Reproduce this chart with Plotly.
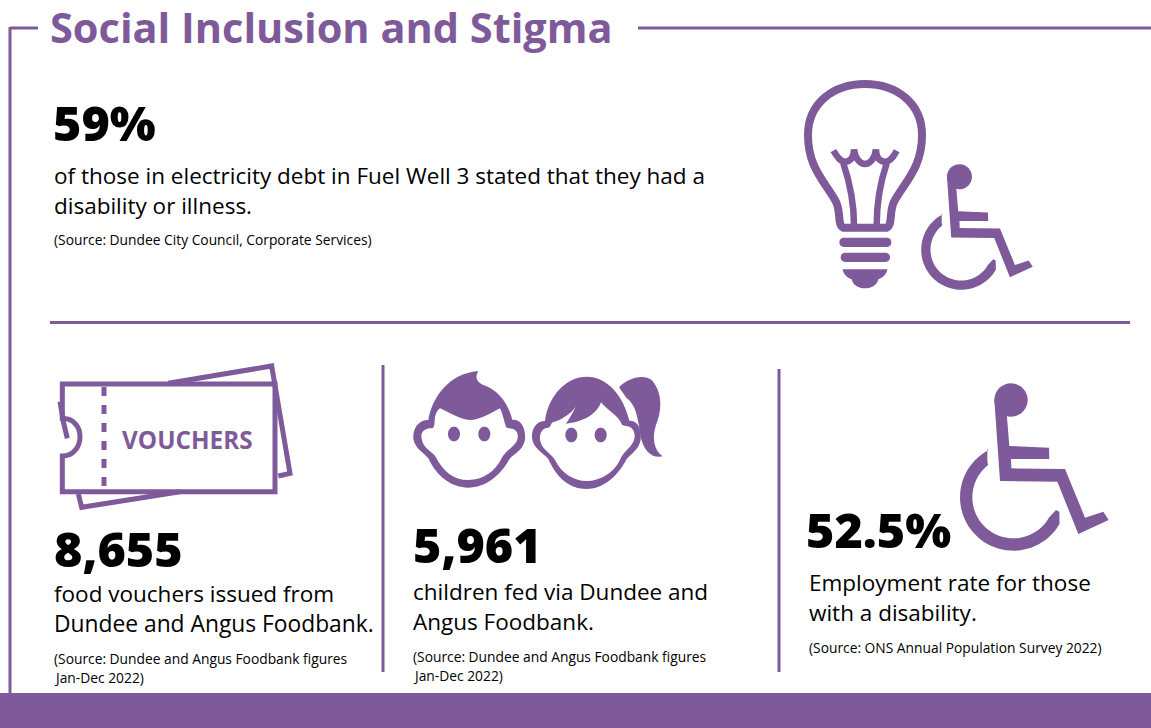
import re
import numpy as np
import plotly.graph_objects as go

PURPLE = "#7E5A9B"
FONT = "Open Sans"

title_text = "Social Inclusion and Stigma"
headline_values = ["59%", "8,655", "5,961", "52.5%"]
body_lines = [
    "of those in electricity debt in Fuel Well 3 stated that they had a",
    "disability or illness.",
    "food vouchers issued from",
    "Dundee and Angus Foodbank.",
    "children fed via Dundee and",
    "Angus Foodbank.",
    "Employment rate for those",
    "with a disability.",
]
source_lines = [
    "(Source: Dundee City Council, Corporate Services)",
    "(Source: Dundee and Angus Foodbank figures",
    "Jan-Dec 2022)",
    "(Source: Dundee and Angus Foodbank figures",
    "Jan-Dec 2022)",
    "(Source: ONS Annual Population Survey 2022)",
]

fig = go.Figure()
shapes = []
annotations = []


def tf(path, ox, oy, s):
    def rep(m):
        return f"{ox + float(m.group(1)) * s:.2f},{oy + float(m.group(2)) * s:.2f}"
    return re.sub(r"(-?[\d.]+),(-?[\d.]+)", rep, path)


def add_path(path, fill=PURPLE, line=None, width=0, dash=None):
    shapes.append(dict(
        type="path", path=path, xref="x", yref="y",
        fillcolor=fill if fill else "rgba(0,0,0,0)",
        line=dict(color=line if line else "rgba(0,0,0,0)", width=width, dash=dash),
    ))


def arc(cx, cy, rx, ry, a0, a1, n=48):
    t = np.radians(np.linspace(a0, a1, n))
    return [(cx + rx * np.cos(v), cy + ry * np.sin(v)) for v in t]


def pts(points, close=True):
    s = "M" + " L".join(f"{x:.2f},{y:.2f}" for x, y in points)
    return s + (" Z" if close else "")


def wheelchair(ox, oy, s):
    head = arc(183, 75, 50, 50, 0, 360)
    add_path(tf(pts(head), ox, oy, s))
    body = [(133, 75), (170, 115), (178, 213), (297, 218), (298, 252), (183, 252), (184, 280),
            (345, 282), (405, 428), (460, 410), (476, 435), (385, 477), (322, 320), (150, 318)]
    add_path(tf(pts(body), ox, oy, s))
    outer = arc(190, 367, 160, 160, 242, 30)
    inner = arc(190, 367, 123, 123, 30, 232)
    wheel = [(112, 220)] + outer + [(328, 410), (318, 405)] + inner + [(112, 258)]
    add_path(tf(pts(wheel), ox, oy, s))


def text(x, y, t, size, color="#000000", weight=400, font=FONT):
    annotations.append(dict(
        x=x - 2, y=y, xref="x", yref="y", text=t, showarrow=False,
        xanchor="left", yanchor="middle", align="left",
        font=dict(family=font, size=size, color=color, weight=weight),
    ))


def seg(x0, y0, x1, y1, w=3, dash=None):
    shapes.append(dict(type="line", x0=x0, y0=y0, x1=x1, y1=y1, xref="x", yref="y",
                       line=dict(color=PURPLE, width=w, dash=dash)))


# frame
seg(10, 28, 38, 28)
seg(10, 27, 10, 693)
seg(638, 28, 1151, 28)
shapes.append(dict(type="rect", x0=0, x1=1151, y0=693, y1=728, xref="x", yref="y",
                   fillcolor=PURPLE, line=dict(width=0)))
seg(50, 322.5, 1130, 322.5)
seg(383, 365, 383, 672)
seg(779, 369, 779, 672)

# bulb
BX, BY, BS = 780, 60, 1 / 3
bulb = ("M190,503 C170,495 185,450 165,420 C130,360 84,320 84,225 C84,130 160,72 255,72 "
        "C350,72 426,130 426,225 C426,320 380,360 345,420 C325,450 340,495 320,503 Z")
add_path(tf(bulb, BX, BY, BS), fill=None, line=PURPLE, width=8)
crown = ("M160,272 C172,292 182,305 195,305 C212,305 222,290 222,268 C225,295 240,312 255,312 "
         "C270,312 285,295 288,268 C288,290 298,305 315,305 C328,305 340,292 350,272")
add_path(tf(crown, BX, BY, BS), fill=None, line=PURPLE, width=6.5)
add_path(tf("M190,310 C210,370 222,440 222,495", BX, BY, BS), fill=None, line=PURPLE, width=6.5)
add_path(tf("M320,310 C300,370 290,440 290,495", BX, BY, BS), fill=None, line=PURPLE, width=6.5)
for y, x0, x1 in [(547, 178, 334), (592, 182, 330)]:
    bar = arc(x0 + 14, y, 14, 14, 90, 270, 12) + arc(x1 - 14, y, 14, 14, 270, 450, 12)
    add_path(tf(pts(bar), BX, BY, BS))
add_path(tf("M188,628 L322,628 C320,645 305,655 295,658 C290,680 270,685 255,685 "
            "C240,685 220,680 215,658 C205,655 190,645 188,628 Z", BX, BY, BS))

wheelchair(913.7, 158, 0.25)
wheelchair(950, 375, 1 / 3)

# vouchers
VX, VY, VS = 40, 350, 1 / 3
front = ("M67,102 L705,102 L705,425 L67,425 L67,318 C100,318 120,290 120,260 "
         "C120,230 100,205 67,205 Z")
add_path(tf(front, VX, VY, VS), fill=None, line=PURPLE, width=5)
add_path(tf("M385,100 L695,48 L750,370 L715,378", VX, VY, VS), fill=None, line=PURPLE, width=5)
add_path(tf("M115,432 L125,472 L420,425", VX, VY, VS), fill=None, line=PURPLE, width=5)
add_path(tf("M60,155 L70,215 L82,265", VX, VY, VS), fill=None, line=PURPLE, width=5)
seg(104, 387, 104, 488, w=5, dash="9px,9px")
text(122, 439, "VOUCHERS", 24.3, color=PURPLE, weight=700)

# kids
KX, KY, KS = 400, 365, 1 / 3
boy_out = ("M235,18 C225,35 228,50 250,60 C295,75 325,115 337,165 C365,160 378,195 375,225 "
           "C368,255 345,265 330,280 C300,335 255,368 205,368 C155,368 110,335 85,280 "
           "C70,262 45,250 40,222 C38,190 55,165 85,165 C95,100 145,25 235,18 Z")
boy_face = ("M120,130 C145,140 180,165 210,165 C240,165 270,145 300,130 C310,150 312,170 318,185 "
            "C325,195 345,185 352,205 C358,225 345,240 325,255 C315,265 310,270 305,280 "
            "C285,320 250,345 205,345 C160,345 130,320 105,272 C95,260 70,250 65,222 "
            "C60,200 75,190 95,190 C105,190 103,170 105,155 C108,145 112,135 120,130 Z")
add_path(tf(boy_out, KX, KY, KS))
add_path(tf(boy_face, KX, KY, KS), fill="#ffffff")
for cx in [162, 253]:
    add_path(tf(pts(arc(cx, 207, 18, 22, 0, 360)), KX, KY, KS))
girl_out = ("M560,35 C620,35 670,90 688,167 C715,165 725,195 722,225 C715,255 695,265 680,282 "
            "C650,340 605,372 560,372 C510,372 470,340 445,282 C430,265 400,250 396,220 "
            "C394,190 410,168 435,168 C445,90 500,35 560,35 Z")
girl_face = ("M527,125 C515,150 505,165 498,176 C545,172 590,150 603,112 C620,135 660,155 665,178 "
             "C670,185 685,180 695,190 C710,205 705,230 690,245 C675,260 665,270 660,285 "
             "C640,325 600,348 560,348 C520,348 485,325 465,285 C455,265 425,255 420,225 "
             "C418,200 430,188 445,188 C455,185 450,178 458,172 C480,165 510,150 527,125 Z")
add_path(tf(girl_out, KX, KY, KS))
add_path(tf(girl_face, KX, KY, KS), fill="#ffffff")
for cx in [514, 602]:
    add_path(tf(pts(arc(cx, 210, 18, 22, 0, 360)), KX, KY, KS))
tail = ("M657,67 C680,40 730,25 755,45 C790,85 785,140 768,180 C755,220 762,255 788,274 "
        "C755,282 730,255 722,215 C715,170 710,120 680,100 Z")
add_path(tf(tail, KX, KY, KS))

# text
HEAD = 48.5
BODY = 22.5
SRC = 13.8
text(50, 27, title_text, 41.5, color=PURPLE, weight=700)
text(53, 122, headline_values[0], HEAD, weight=800)
text(54, 175, body_lines[0], BODY)
text(54, 205, body_lines[1], BODY)
text(54, 239, source_lines[0], SRC, weight=500)
text(54, 548, headline_values[1], HEAD, weight=800)
text(54, 593, body_lines[2], BODY)
text(54, 623, body_lines[3], 22.8)
text(54, 658, source_lines[1], SRC, weight=500)
text(54, 677, source_lines[2], SRC, weight=500)
text(413, 544, headline_values[2], HEAD, weight=800)
text(413, 591, body_lines[4], BODY)
text(413, 621, body_lines[5], BODY)
text(413, 656, source_lines[3], SRC, weight=500)
text(413, 675, source_lines[4], SRC, weight=500)
text(806, 529, headline_values[3], HEAD, weight=800)
text(809, 582, body_lines[6], BODY)
text(809, 612, body_lines[7], BODY)
text(809, 647, source_lines[5], SRC, weight=500)

fig.update_layout(
    width=1151, height=728, margin=dict(l=0, r=0, t=0, b=0),
    paper_bgcolor="#ffffff", plot_bgcolor="#ffffff", showlegend=False,
    xaxis=dict(range=[0, 1151], visible=False, fixedrange=True),
    yaxis=dict(range=[728, 0], visible=False, fixedrange=True),
    shapes=shapes, annotations=annotations,
)
fig.write_html("out.html", config=dict(displayModeBar=False),
               post_script="document.body.style.margin='0';")
